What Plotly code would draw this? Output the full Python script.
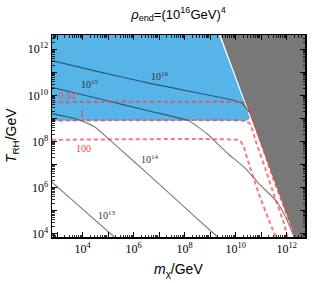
import numpy as np
import plotly.graph_objects as go

# ---- data (log10 values) ----
# excluded (grey) region boundary
grey_logm = [9.41, 12.32, 12.72, 12.72]
grey_logT = [12.62, 3.85, 3.85, 12.62]

# allowed blue region
blue_logm = [2.80, 9.35, 10.55, 10.52, 10.42, 2.80]
blue_logT = [12.62, 12.62, 9.05, 8.95, 8.90, 8.90]

# solid contour lines
c16_logm = [2.79, 4.69, 6.65, 8.62, 9.80, 10.27, 10.52]
c16_logT = [11.51, 11.01, 10.52, 10.08, 9.82, 9.65, 9.27]
c15_logm = [2.79, 4.69, 6.65, 7.83, 8.15, 8.88, 9.67, 10.39, 10.91, 11.57, 11.96, 12.29]
c15_logT = [10.35, 9.84, 9.31, 9.00, 8.91, 8.33, 7.50, 6.82, 6.17, 5.44, 4.72, 3.85]
c14_logm = [2.79, 3.51, 4.02, 4.49, 5.00, 5.99, 6.97, 7.83, 9.13, 9.29]
c14_logT = [9.21, 9.04, 8.87, 8.61, 8.13, 7.15, 6.18, 5.31, 4.01, 3.85]
c13_logm = [2.79, 4.00, 5.24]
c13_logT = [6.24, 5.06, 3.85]

# dashed contour lines
d001_logm = [2.79, 10.25, 10.38, 10.50, 10.62, 10.88, 11.40, 11.84, 12.19, 12.32]
d001_logT = [9.70, 9.70, 9.66, 9.52, 9.15, 8.33, 6.60, 5.31, 4.28, 3.85]
d1_logm = [2.79, 10.30, 10.45, 10.59, 10.78, 11.18, 11.57, 11.90, 12.03]
d1_logT = [8.90, 8.90, 8.86, 8.72, 8.04, 6.77, 5.47, 4.43, 3.85]
d100_logm = [2.79, 10.05, 10.18, 10.32, 10.52, 10.91, 11.31, 11.57]
d100_logT = [8.07, 8.07, 8.02, 7.75, 7.03, 5.73, 4.57, 3.85]

solid_labels = ["10<sup>16</sup>", "10<sup>15</sup>", "10<sup>14</sup>", "10<sup>13</sup>"]
solid_label_logm = [7.05, 4.29, 6.65, 4.95]
solid_label_logT = [10.86, 10.50, 7.25, 4.79]
dash_labels = ["0.01", "1", "100"]
dash_label_logm = [3.44, 3.99, 4.02]
dash_label_logT = [9.99, 9.20, 7.68]

x_decades = list(range(3, 13))
y_decades = list(range(4, 13))

def p(a):
    return [10 ** v for v in a]

fig = go.Figure()
fig.add_trace(go.Scatter(x=p(blue_logm), y=p(blue_logT), fill="toself", mode="lines",
                         line=dict(width=0), fillcolor="#56B4E9", hoverinfo="skip"))
fig.add_trace(go.Scatter(x=p(grey_logm), y=p(grey_logT), fill="toself", mode="lines",
                         line=dict(width=0), fillcolor="#787878", hoverinfo="skip"))

for lm, lt in [(c16_logm, c16_logT), (c15_logm, c15_logT), (c14_logm, c14_logT), (c13_logm, c13_logT)]:
    fig.add_trace(go.Scatter(x=p(lm), y=p(lt), mode="lines", line_shape="spline",
                             line=dict(color="rgba(0,0,0,0.5)", width=1.2, smoothing=0.5)))
for lm, lt in [(d001_logm, d001_logT), (d1_logm, d1_logT), (d100_logm, d100_logT)]:
    fig.add_trace(go.Scatter(x=p(lm), y=p(lt), mode="lines", line_shape="spline",
                             line=dict(color="rgba(255,60,60,0.7)", width=2, dash="4px,3px",
                                       smoothing=0.6)))

for t, xm, yt in zip(solid_labels, solid_label_logm, solid_label_logT):
    fig.add_annotation(x=xm, y=yt, text=t, showarrow=False,
                       font=dict(family="Liberation Serif", size=10, color="#333333"))
for t, xm, yt in zip(dash_labels, dash_label_logm, dash_label_logT):
    fig.add_annotation(x=xm, y=yt, text=t, showarrow=False,
                       font=dict(family="Liberation Serif", size=10, color="#e84545"))

def ticktext(decs):
    return [f"10<sup>{d}</sup>" if d % 2 == 0 else "" for d in decs]

def minor_vals(decs):
    return [k * 10 ** d for d in [decs[0] - 1] + decs for k in range(2, 10)]

axis_common = dict(type="log", showgrid=False, zeroline=False, showline=True,
                   linecolor="black", linewidth=1.5, mirror="allticks", automargin=False,
                   ticks="inside", ticklen=5, tickwidth=1, tickcolor="black",
                   tickfont=dict(family="Liberation Serif", size=12, color="black"))

fig.update_xaxes(range=[2.8, 12.72], tickmode="array", tickvals=p(x_decades),
                 ticktext=ticktext(x_decades),
                 minor=dict(tickmode="array", tickvals=minor_vals(x_decades), ticks="inside",
                            ticklen=2.5, tickcolor="black", tickwidth=0.8),
                 **axis_common)
fig.update_yaxes(range=[3.85, 12.62], tickmode="array", tickvals=p(y_decades),
                 ticktext=ticktext(y_decades),
                 minor=dict(tickmode="array", tickvals=minor_vals(y_decades), ticks="inside",
                            ticklen=2.5, tickcolor="black", tickwidth=0.8),
                 **axis_common)

fig.add_annotation(xref="paper", yref="paper", x=-0.158, y=0.50, textangle=-90,
                   xanchor="center", yanchor="middle",
                   text="<i>T</i><sub>RH</sub>/GeV", showarrow=False,
                   font=dict(family="Liberation Sans", size=14, color="black"))
fig.add_annotation(xref="paper", yref="paper", x=0.50, y=-0.165,
                   xanchor="center", yanchor="middle",
                   text="<i>m</i><sub>χ</sub>/GeV", showarrow=False,
                   font=dict(family="Liberation Sans", size=14, color="black"))

fig.update_layout(
    template="none",
    width=312, height=283,
    margin=dict(l=52, r=7, t=35, b=46, autoexpand=False),
    paper_bgcolor="white", plot_bgcolor="white",
    showlegend=False,
    title=dict(text="<i>ρ</i><sub>end</sub>=(10<sup>16</sup>GeV)<sup>4</sup>",
               xref="paper", x=0.5, xanchor="center",
               yref="container", y=0.95, yanchor="middle",
               font=dict(family="Liberation Sans", size=13, color="black")),
)

fig.write_html("out.html", config={"displayModeBar": False, "staticPlot": True},
               post_script="document.body.style.margin='0px';document.body.style.overflow='hidden';")
